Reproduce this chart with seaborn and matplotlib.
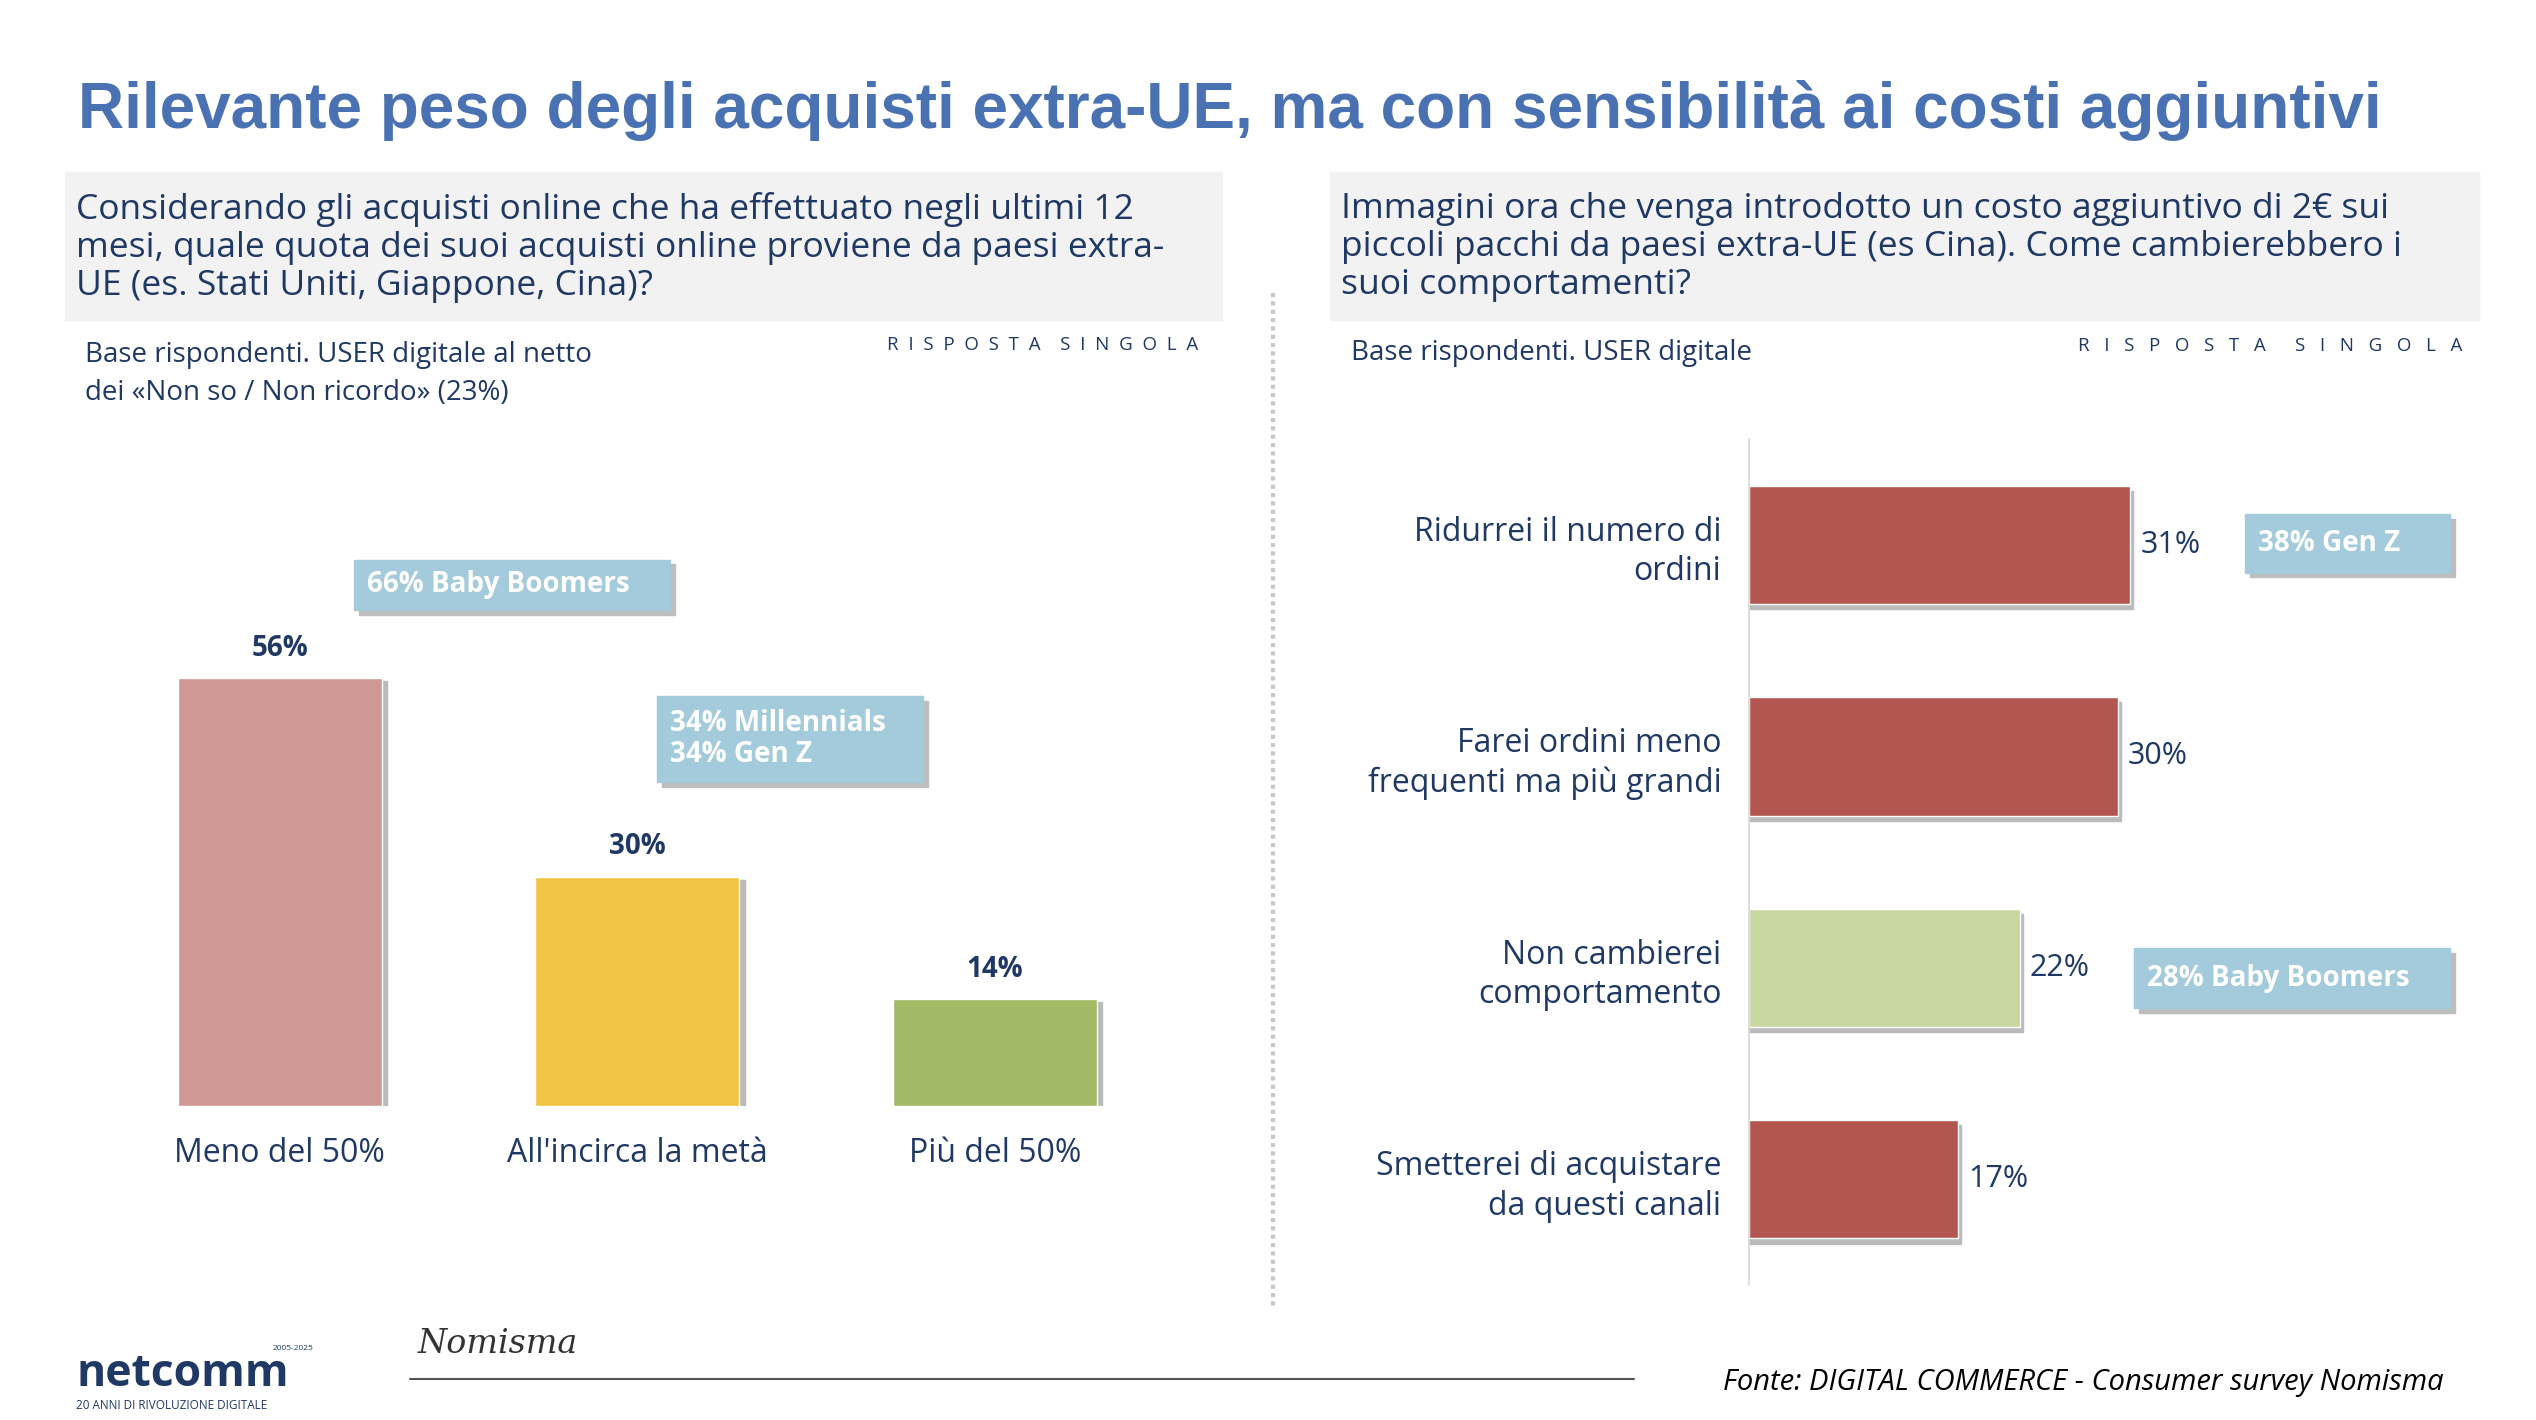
import matplotlib
matplotlib.use("Agg")
import matplotlib.pyplot as plt
import matplotlib.patches as mpatches
import pandas as pd
import seaborn as sns

sns.set_theme(style="white")
plt.rcParams["font.family"] = ["Open Sans", "DejaVu Sans"]

# data
left_cats = ["Meno del 50%", "All'incirca la metà", "Più del 50%"]
left_vals = [56, 30, 14]
left_colors = ["#cf9894", "#f2c443", "#a2b966"]

right_cats = ["Ridurrei il numero di\nordini", "Farei ordini meno\nfrequenti ma più grandi",
              "Non cambierei\ncomportamento", "Smetterei di acquistare\nda questi canali"]
right_vals = [31, 30, 22, 17]
right_colors = ["#b35650", "#b35650", "#c8d7a0", "#b35650"]

W, H = 1560, 873
def fx(x): return x / W
def fy(y): return 1 - y / H

NAVY = "#1f3864"
BLUE = "#4a72b2"
CALL = "#a3cbdb"

fig = plt.figure(figsize=(25.36, 14.2), dpi=100)

fig.text(fx(48), fy(68), "Rilevante peso degli acquisti extra-UE, ma con sensibilità ai costi aggiuntivi",
         fontsize=46, fontweight="bold", color=BLUE, va="center", family=["Liberation Sans", "DejaVu Sans"])

# grey question boxes
for x0, x1, txt in [(40, 752, "Considerando gli acquisti online che ha effettuato negli ultimi 12\nmesi, quale quota dei suoi acquisti online proviene da paesi extra-\nUE (es. Stati Uniti, Giappone, Cina)?"),
                    (818, 1525, "Immagini ora che venga introdotto un costo aggiuntivo di 2€ sui\npiccoli pacchi da paesi extra-UE (es Cina). Come cambierebbero i\nsuoi comportamenti?")]:
    fig.patches.append(mpatches.Rectangle((fx(x0), fy(197)), fx(x1 - x0), (197 - 106) / H,
                                          transform=fig.transFigure, color="#f2f2f2", zorder=0))
    fig.text(fx(x0 + 7), fy(152), txt, fontsize=25.5, color=NAVY, va="center", linespacing=1.15)

fig.text(fx(52), fy(230), "Base rispondenti. USER digitale al netto\ndei «Non so / Non ricordo» (23%)",
         fontsize=20, color=NAVY, va="center", linespacing=1.45)
fig.text(fx(831), fy(217), "Base rispondenti. USER digitale", fontsize=20, color=NAVY, va="center")
fig.text(fx(737), fy(212), "R  I  S  P  O  S  T  A    S  I  N  G  O  L  A", fontsize=13.5, color=NAVY,
         ha="right", va="center")
fig.text(fx(1515), fy(213), "R   I   S   P   O   S   T   A      S   I   N   G   O   L   A", fontsize=13.5,
         color=NAVY, ha="right", va="center")

# divider
fig.add_artist(plt.Line2D([fx(783), fx(783)], [fy(180), fy(805)], transform=fig.transFigure,
                          color="#c8c8c8", lw=3, ls=(0, (1, 1))))

# left chart
axl = fig.add_axes([fx(62), fy(680), fx(220 * 3), (680 - 304) / H])
dl = pd.DataFrame({"cat": left_cats, "val": left_vals})
sns.barplot(data=dl, x="cat", y="val", hue="cat", palette=left_colors, legend=False,
            width=0.57, ax=axl, saturation=1)
for p, v in zip(axl.patches, left_vals):
    sh = mpatches.Rectangle((p.get_x() + 0.015, 0), p.get_width(), v - 0.4, color="#bbbbbb", zorder=0.5)
    axl.add_patch(sh)
    axl.text(p.get_x() + p.get_width() / 2, v + 2, f"{v}%", ha="center", va="bottom",
             fontsize=20, fontweight="bold", color=NAVY)
axl.set_ylim(0, 80)
axl.set_xlabel("")
axl.set_ylabel("")
axl.set_yticks([])
axl.tick_params(axis="x", labelsize=23, labelcolor=NAVY, pad=16)
sns.despine(ax=axl, left=True, bottom=True)

# right chart
axr = fig.add_axes([fx(1076), fy(790), fx(1520 - 1076), (790 - 270) / H])
dr = pd.DataFrame({"cat": right_cats, "val": right_vals})
sns.barplot(data=dr, y="cat", x="val", hue="cat", palette=right_colors, legend=False,
            width=0.56, ax=axr, saturation=1, orient="h")
for p, v in zip(axr.patches, right_vals):
    sh = mpatches.Rectangle((0, p.get_y() + 0.025), v + 0.25, p.get_height(), color="#bbbbbb", zorder=0.5)
    axr.add_patch(sh)
    axr.text(v + 0.8, p.get_y() + p.get_height() / 2, f"{v}%", ha="left", va="center",
             fontsize=22, color=NAVY)
axr.set_xlim(0, 58.7)
axr.set_xlabel("")
axr.set_ylabel("")
axr.set_xticks([])
axr.tick_params(axis="y", labelsize=23, labelcolor=NAVY, pad=20, length=0)
for t in axr.get_yticklabels():
    t.set_horizontalalignment("right")
    t.set_multialignment("right")
    t.set_linespacing(1.25)
sns.despine(ax=axr, left=False, bottom=True)
axr.spines["left"].set_color("#d9d9d9")

# callouts
def callout(x0, y0, x1, y1, txt):
    fig.patches.append(mpatches.Rectangle((fx(x0 + 3), fy(y1 + 3)), fx(x1 - x0), (y1 - y0) / H,
                                          transform=fig.transFigure, color="#bdbdbd", zorder=1))
    fig.patches.append(mpatches.Rectangle((fx(x0), fy(y1)), fx(x1 - x0), (y1 - y0) / H,
                                          transform=fig.transFigure, color=CALL, zorder=2))
    fig.text(fx(x0 + 8), fy((y0 + y1) / 2), txt, fontsize=20, fontweight="bold", color="white",
             va="center", zorder=3, linespacing=1.1)

callout(218, 344, 412, 375, "66% Baby Boomers")
callout(404, 428, 568, 481, "34% Millennials\n34% Gen Z")
callout(1381, 316, 1507, 352, "38% Gen Z")
callout(1313, 583, 1507, 620, "28% Baby Boomers")

# footer
fig.add_artist(plt.Line2D([fx(252), fx(1005)], [fy(848), fy(848)], transform=fig.transFigure,
                          color="#555555", lw=1.5))
fig.text(fx(1503), fy(850), "Fonte: DIGITAL COMMERCE - Consumer survey Nomisma", fontsize=21,
         style="italic", color="black", ha="right", va="center")
fig.text(fx(257), fy(826), "Nomisma", fontsize=24, style="italic", color="#333333",
         va="center", family=["DejaVu Serif"])
fig.text(fx(47), fy(845), "netcomm", fontsize=32, fontweight="bold", color=NAVY, va="center")
fig.text(fx(47), fy(864), "20 ANNI DI RIVOLUZIONE DIGITALE", fontsize=8.5, color=NAVY, va="center")
fig.text(fx(193), fy(829), "2005-2025", fontsize=6, color=NAVY, ha="right", va="center")

fig.savefig("out.png", dpi=100)
